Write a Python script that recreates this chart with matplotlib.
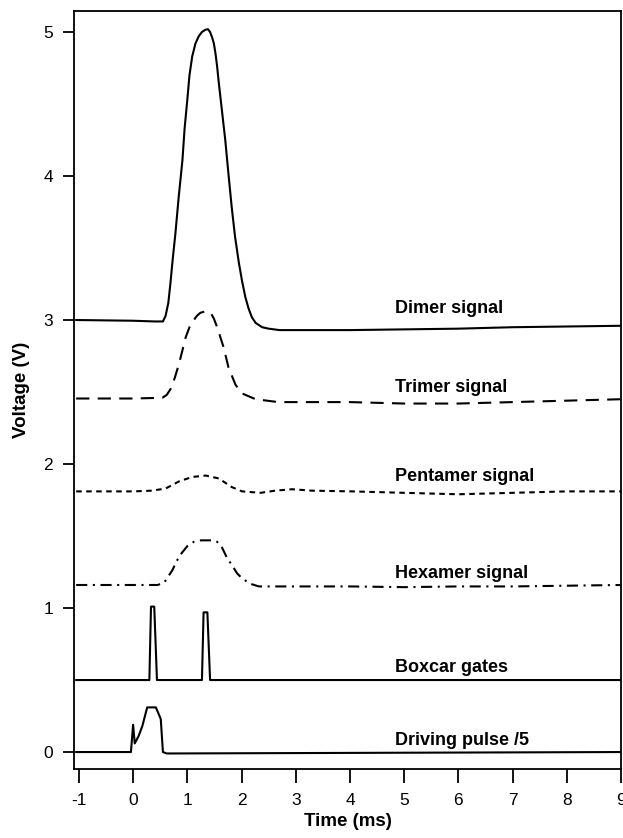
import matplotlib
matplotlib.use("Agg")
import matplotlib.pyplot as plt

plt.rcParams['font.family'] = ['Liberation Sans', 'DejaVu Sans']
plt.rcParams['axes.unicode_minus'] = False
plt.rcParams['lines.scale_dashes'] = False

# traces (time in ms, voltage in V)
dimer_t = [-1.05, 0.0, 0.4, 0.5, 0.55, 0.6, 0.65, 0.69, 0.73, 0.78, 0.84, 0.91, 0.95, 1.0,
           1.04, 1.09, 1.15, 1.21, 1.27, 1.33, 1.38, 1.42, 1.46, 1.49, 1.52, 1.55, 1.58,
           1.64, 1.70, 1.76, 1.82, 1.88, 1.95, 2.01, 2.07, 2.13, 2.19, 2.26, 2.38, 2.5,
           2.7, 3.1, 4, 5, 6, 7, 8, 9]
dimer_v = [3.0, 2.995, 2.99, 2.99, 2.99, 3.03, 3.12, 3.26, 3.42, 3.60, 3.85, 4.11, 4.33, 4.53,
           4.70, 4.83, 4.92, 4.97, 5.0, 5.015, 5.02, 5.0, 4.96, 4.92, 4.85, 4.76, 4.65,
           4.45, 4.25, 4.01, 3.78, 3.58, 3.40, 3.27, 3.16, 3.08, 3.02, 2.98, 2.95, 2.94,
           2.93, 2.93, 2.93, 2.935, 2.94, 2.95, 2.955, 2.96]

trimer_t = [-1.05, 0.0, 0.54, 0.62, 0.69, 0.77, 0.85, 0.97, 1.05, 1.12, 1.18, 1.24, 1.33, 1.43,
            1.49, 1.55, 1.67, 1.76, 1.89, 2.01, 2.26, 2.68, 3.1, 4, 5, 6, 7, 8, 9]
trimer_v = [2.455, 2.455, 2.46, 2.48, 2.52, 2.60, 2.70, 2.88, 2.96, 3.00, 3.03, 3.05, 3.06, 3.05,
            3.01, 2.95, 2.81, 2.67, 2.55, 2.49, 2.45, 2.43, 2.43, 2.43, 2.42, 2.42, 2.43,
            2.44, 2.45]

pentamer_t = [-1.05, 0.0, 0.35, 0.6, 0.85, 1.09, 1.34, 1.58, 1.82, 2.01, 2.35, 2.62, 2.93, 3.3,
              4.03, 5, 6, 7, 8, 9]
pentamer_v = [1.81, 1.81, 1.815, 1.83, 1.88, 1.91, 1.92, 1.90, 1.84, 1.81, 1.80, 1.815, 1.825,
              1.815, 1.81, 1.80, 1.79, 1.80, 1.81, 1.81]

hexamer_t = [-1.05, 0.0, 0.45, 0.57, 0.72, 0.85, 1.0, 1.12, 1.25, 1.45, 1.55, 1.64, 1.73, 1.82,
             1.92, 2.0, 2.15, 2.32, 3, 4, 5, 6, 7, 8, 9]
hexamer_v = [1.16, 1.16, 1.16, 1.175, 1.26, 1.36, 1.43, 1.46, 1.47, 1.47, 1.46, 1.42, 1.35, 1.30,
             1.24, 1.21, 1.17, 1.15, 1.15, 1.15, 1.145, 1.15, 1.15, 1.155, 1.16]

boxcar_t = [-1.05, 0.30, 0.33, 0.39, 0.44, 0.47, 1.27, 1.30, 1.37, 1.42, 1.45, 9]
boxcar_v = [0.50, 0.50, 1.01, 1.01, 0.50, 0.50, 0.50, 0.97, 0.97, 0.50, 0.50, 0.50]

pulse_t = [-1.05, -0.04, 0.0, 0.03, 0.10, 0.17, 0.26, 0.42, 0.51, 0.55, 0.62, 9]
pulse_v = [0.0, 0.0, 0.19, 0.06, 0.11, 0.18, 0.31, 0.31, 0.23, 0.0, -0.01, 0.0]

labels = ['Dimer signal', 'Trimer signal', 'Pentamer signal', 'Hexamer signal',
          'Boxcar gates', 'Driving pulse /5']
label_y = [3.08, 2.53, 1.91, 1.24, 0.59, 0.08]
label_x = 4.83

fig = plt.figure(figsize=(6.23, 8.38), dpi=100)
ax = fig.add_axes([0.1188, 0.0823, 0.8780, 0.9046])

lw = 1.5
ax.plot(dimer_t, dimer_v, color='black', lw=lw)
ax.plot(trimer_t, trimer_v, color='black', lw=lw, linestyle=(0, (9.5, 6.0)))
ax.plot(pentamer_t, pentamer_v, color='black', lw=lw, linestyle=(0, (4.0, 3.2)))
ax.plot(hexamer_t, hexamer_v, color='black', lw=lw, linestyle=(0, (8.0, 4.0, 1.5, 4.0)))
ax.plot(boxcar_t, boxcar_v, color='black', lw=lw)
ax.plot(pulse_t, pulse_v, color='black', lw=lw)

for txt, y in zip(labels, label_y):
    ax.text(label_x, y, txt, fontsize=13, fontweight='bold', ha='left', va='center')

ax.set_xlim(-1.09, 9.0)
ax.set_ylim(-0.118, 5.146)
ax.set_xticks(range(-1, 10))
ax.set_yticks(range(0, 6))
ax.tick_params(axis='both', direction='out', length=8, width=1.3, labelsize=12.5, pad=7)
ax.tick_params(axis='x', length=10, pad=7)
for s in ax.spines.values():
    s.set_linewidth(1.3)

ax.set_xlabel('Time (ms)', fontsize=13.5, fontweight='bold', labelpad=4)
ax.set_ylabel('Voltage (V)', fontsize=13.5, fontweight='bold', labelpad=10)

fig.savefig('out.png', dpi=100)
